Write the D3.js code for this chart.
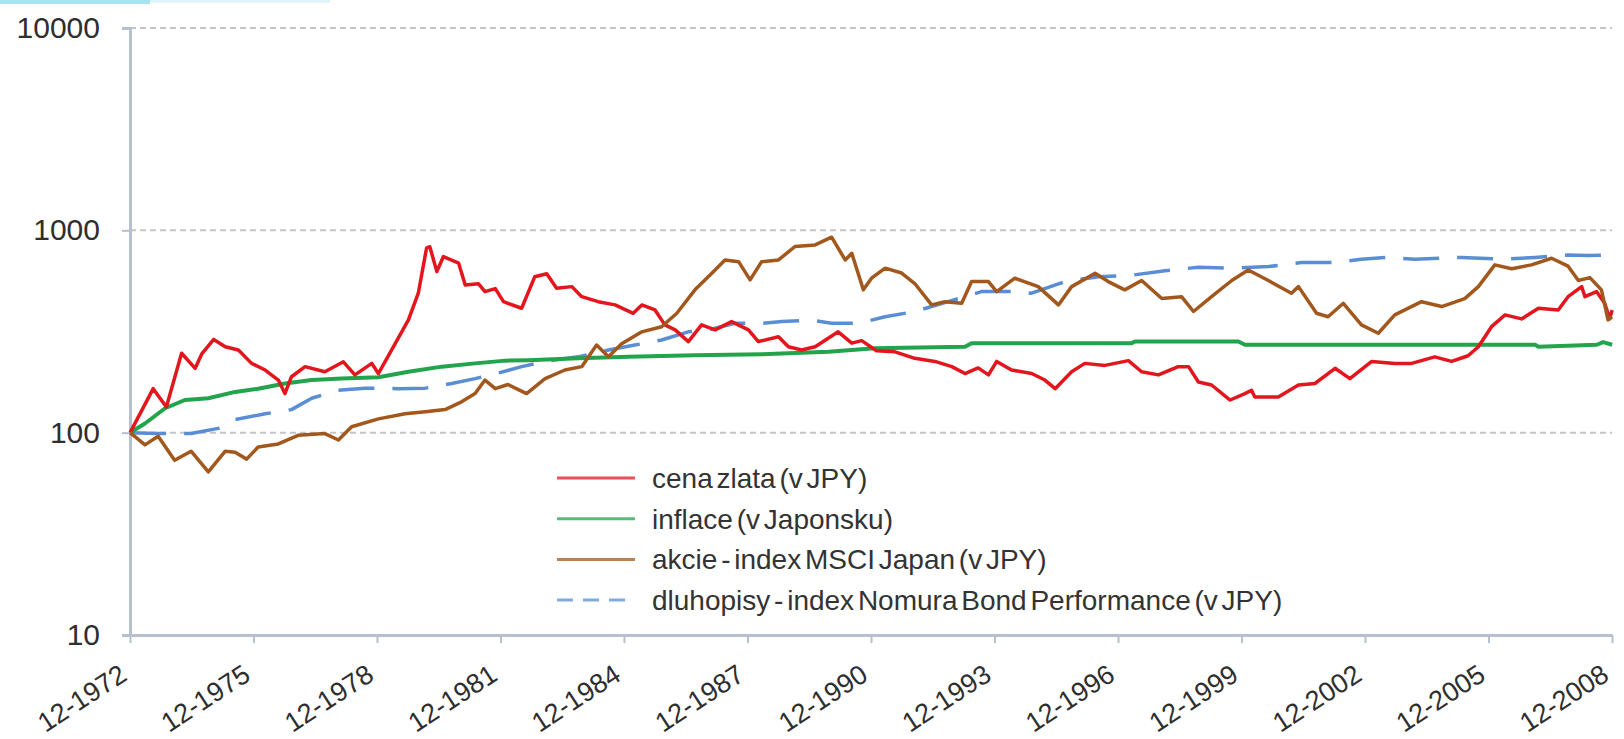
<!doctype html>
<html lang="cs">
<head>
<meta charset="utf-8">
<title>Zlato, inflace, akcie a dluhopisy v Japonsku</title>
<script src="https://d3js.org/d3.v7.min.js"></script>
<style>
  body { margin: 0; background: #fff; font-family: Arial, "Liberation Sans", Helvetica, sans-serif; }
  svg { display: block; }
</style>
</head>
<body>
<svg id="chart" width="1624" height="739"></svg>
<script>
// values (index, 12-1972 = 100), dates as decimal years
var goldYears = [1972.92, 1973.48, 1973.8, 1974.17, 1974.5, 1974.66, 1974.95, 1975.23, 1975.55, 1975.87,
  1976.2, 1976.52, 1976.68, 1976.84, 1977.17, 1977.65, 1978.1, 1978.38, 1978.79, 1978.95,
  1979.27, 1979.68, 1979.92, 1980.12, 1980.2, 1980.37, 1980.53, 1980.9, 1981.06, 1981.38,
  1981.54, 1981.79, 1981.99, 1982.43, 1982.75, 1983.04, 1983.28, 1983.65, 1983.89, 1984.29,
  1984.7, 1985.14, 1985.35, 1985.67, 1985.91, 1986.16, 1986.48, 1986.8, 1987.13, 1987.53,
  1987.94, 1988.18, 1988.67, 1988.91, 1989.23, 1989.56, 1990.12, 1990.45, 1990.69, 1991.05,
  1991.5, 1991.98, 1992.47, 1992.88, 1993.2, 1993.52, 1993.77, 1993.97, 1994.33, 1994.82,
  1995.14, 1995.39, 1995.79, 1996.11, 1996.6, 1997.17, 1997.49, 1997.9, 1998.38, 1998.63,
  1998.87, 1999.19, 1999.64, 2000.0, 2000.16, 2000.24, 2000.81, 2001.3, 2001.7, 2002.19,
  2002.55, 2003.08, 2003.64, 2004.05, 2004.61, 2005.02, 2005.42, 2005.67, 2005.99, 2006.32,
  2006.72, 2007.13, 2007.61, 2007.85, 2008.18, 2008.26, 2008.54, 2008.74, 2008.86, 2008.92];
var goldValues = [100, 165, 134, 247, 208, 245, 289, 266, 256, 220,
  204, 182, 156, 189, 212, 200, 224, 193, 220, 196,
  256, 361, 489, 816, 830, 625, 742, 688, 537, 545,
  498, 515, 444, 412, 590, 610, 517, 527, 470, 444,
  428, 389, 428, 404, 341, 322, 282, 341, 322, 354,
  322, 282, 298, 266, 256, 266, 315, 277, 285, 254,
  251, 233, 225, 212, 196, 209, 193, 225, 204, 196,
  182, 165, 200, 220, 215, 227, 200, 193, 212, 212,
  178, 172, 145, 156, 162, 150, 150, 172, 175, 208,
  185, 225, 220, 220, 237, 225, 240, 266, 334, 382,
  365, 412, 404, 470, 527, 470, 498, 436, 365, 404];

var cpiYears = [1972.92, 1973.28, 1973.77, 1974.25, 1974.82, 1975.47, 1976.03, 1976.68, 1977.33, 1978.06,
  1978.95, 1979.68, 1980.49, 1981.3, 1982.03, 1982.59, 1983.8, 1985.02, 1986.64, 1988.26,
  1989.88, 1991.01, 1993.2, 1993.36, 1997.25, 1997.33, 1999.84, 2000.0, 2007.05, 2007.13,
  2008.55, 2008.7, 2008.92];
var cpiValues = [100, 111, 132, 145, 148, 159, 165, 175, 182, 185,
  188, 200, 212, 220, 227, 228, 233, 237, 241, 244,
  251, 261, 266, 277, 277, 282, 282, 272, 272, 266,
  272, 280, 272];

var stockYears = [1972.92, 1973.28, 1973.6, 1974.0, 1974.4, 1974.82, 1975.23, 1975.47, 1975.75, 1976.03,
  1976.52, 1977.0, 1977.65, 1977.98, 1978.3, 1978.95, 1979.6, 1980.09, 1980.57, 1980.97,
  1981.3, 1981.54, 1981.79, 1982.1, 1982.55, 1983.0, 1983.48, 1983.89, 1984.25, 1984.54,
  1984.86, 1985.35, 1985.83, 1986.2, 1986.64, 1987.05, 1987.37, 1987.7, 1987.98, 1988.26,
  1988.67, 1989.07, 1989.56, 1989.96, 1990.29, 1990.45, 1990.73, 1990.93, 1991.26, 1991.66,
  1991.98, 1992.39, 1992.71, 1993.12, 1993.36, 1993.77, 1993.97, 1994.41, 1994.98, 1995.47,
  1995.79, 1996.36, 1996.68, 1997.08, 1997.49, 1997.98, 1998.46, 1998.75, 1999.19, 1999.68,
  2000.08, 2000.57, 2001.13, 2001.3, 2001.74, 2002.02, 2002.39, 2002.83, 2003.24, 2003.64,
  2004.29, 2004.78, 2005.34, 2005.67, 2006.07, 2006.48, 2006.96, 2007.45, 2007.85, 2008.1,
  2008.38, 2008.66, 2008.82, 2008.92];
var stockValues = [100, 87, 96, 73, 81, 64, 81, 80, 74, 85,
  88, 97, 99, 92, 107, 117, 124, 127, 130, 142,
  156, 182, 165, 173, 156, 185, 204, 212, 271, 237,
  275, 315, 334, 389, 508, 614, 714, 700, 569, 700,
  714, 832, 847, 925, 714, 770, 508, 580, 650, 615,
  546, 428, 444, 436, 558, 558, 498, 580, 527, 428,
  527, 614, 558, 508, 565, 460, 470, 397, 470, 565,
  637, 565, 489, 527, 389, 374, 436, 341, 310, 382,
  444, 420, 460, 527, 675, 646, 675, 728, 665, 565,
  584, 508, 361, 374];

var bondYears = [1972.92, 1973.6, 1974.4, 1975.06, 1975.47, 1976.2, 1976.84, 1977.33, 1977.98, 1978.62,
  1979.44, 1980.09, 1980.73, 1981.3, 1981.78, 1982.43, 1983.0, 1983.8, 1984.54, 1985.18,
  1985.83, 1986.48, 1986.96, 1987.61, 1988.26, 1988.75, 1989.47, 1989.96, 1990.61, 1991.26,
  1991.98, 1992.79, 1993.6, 1994.41, 1994.82, 1995.63, 1996.44, 1997.25, 1998.06, 1998.87,
  1999.76, 2000.57, 2001.38, 2002.19, 2002.83, 2003.48, 2004.13, 2005.26, 2006.23, 2007.05,
  2007.85, 2008.34, 2008.83, 2008.92];
var bondValues = [100, 99, 99, 105, 116, 124, 130, 148, 162, 166,
  165, 166, 175, 185, 195, 212, 225, 237, 256, 271,
  287, 315, 322, 347, 347, 354, 360, 347, 347, 374,
  397, 444, 498, 498, 489, 558, 590, 600, 631, 657,
  650, 662, 693, 693, 720, 735, 720, 735, 720, 735,
  756, 750, 756, 785];

var seriesNames = ["cena zlata (v JPY)", "inflace (v Japonsku)",
  "akcie - index MSCI Japan (v JPY)", "dluhopisy - index Nomura Bond Performance (v JPY)"];
var tickLabels = ["12-1972", "12-1975", "12-1978", "12-1981", "12-1984", "12-1987", "12-1990",
  "12-1993", "12-1996", "12-1999", "12-2002", "12-2005", "12-2008"];
var yTicks = [10, 100, 1000, 10000];

var svg = d3.select("#chart");

// thin cyan strip in the top-left corner of the picture
svg.append("rect").attr("x", 0).attr("y", 0).attr("width", 150).attr("height", 4).attr("fill", "#a6e2ef");
svg.append("rect").attr("x", 150).attr("y", 0).attr("width", 180).attr("height", 3).attr("fill", "#dff3f8");

function labelYear(s) { return +s.split("-")[1] + 11 / 12; }

var x = d3.scaleLinear()
  .domain([labelYear(tickLabels[0]), labelYear(tickLabels[tickLabels.length - 1])])
  .range([130, 1612]);
var y = d3.scaleLog().domain([10, 10000]).range([635, 28]);

// horizontal dotted gridlines
svg.append("g").selectAll("line")
  .data(yTicks.slice(1))
  .join("line")
  .attr("x1", x.range()[0]).attr("x2", x.range()[1])
  .attr("y1", d => y(d)).attr("y2", d => y(d))
  .attr("stroke", "#c4c4c4").attr("stroke-width", 2).attr("stroke-dasharray", "6,4");

// y axis
var yAxis = svg.append("g")
  .attr("transform", "translate(" + x.range()[0] + ",0)")
  .call(d3.axisLeft(y).tickValues(yTicks).tickFormat(d3.format("d")).tickSize(8).tickPadding(22));
yAxis.select(".domain").attr("stroke", "#b7c0cf").attr("stroke-width", 3);
yAxis.selectAll(".tick line").attr("stroke", "#b7c0cf").attr("stroke-width", 2);
yAxis.selectAll(".tick text")
  .attr("font-size", 30).attr("fill", "#2e2e2e")
  .attr("font-family", "Arial, 'Liberation Sans', sans-serif");

// x axis
var xAxis = svg.append("g")
  .attr("transform", "translate(0," + y.range()[0] + ")")
  .call(d3.axisBottom(x).tickValues(tickLabels.map(labelYear)).tickFormat((d, i) => tickLabels[i]).tickSize(8).tickSizeOuter(0));
xAxis.select(".domain").attr("stroke", "#b7c0cf").attr("stroke-width", 3);
xAxis.selectAll(".tick line").attr("stroke", "#b7c0cf").attr("stroke-width", 2);
xAxis.selectAll(".tick text")
  .attr("font-size", 27).attr("fill", "#2e2e2e")
  .attr("font-family", "Arial, 'Liberation Sans', sans-serif")
  .attr("text-anchor", "end")
  .attr("dy", null)
  .attr("y", 0)
  .attr("transform", "translate(-2,44) rotate(-33)");

// series
var colors = ["#e3161d", "#22a34c", "#a2581d", "#5a8ed4"];
var series = [
  { years: goldYears, values: goldValues },
  { years: cpiYears, values: cpiValues },
  { years: stockYears, values: stockValues },
  { years: bondYears, values: bondValues }
];
var line = d3.line().x(d => x(d[0])).y(d => y(d[1]));

// bonds at the back, stocks on top
var order = [3, 1, 0, 2];
order.forEach(function (k) {
  var s = series[k];
  svg.append("path")
    .datum(d3.zip(s.years, s.values))
    .attr("fill", "none")
    .attr("stroke", colors[k])
    .attr("stroke-width", k === 1 ? 4 : 3.5)
    .attr("stroke-linejoin", "round")
    .attr("stroke-dasharray", k === 3 ? "36,18" : null)
    .attr("d", line);
});

// legend
var legend = svg.append("g").attr("transform", "translate(557,478)");
var rows = legend.selectAll("g")
  .data(seriesNames)
  .join("g")
  .attr("transform", (d, i) => "translate(0," + (i * 40.7) + ")");
rows.append("line")
  .attr("x1", 0).attr("x2", 78).attr("y1", 0).attr("y2", 0)
  .attr("stroke", (d, i) => colors[i])
  .attr("stroke-opacity", 0.75)
  .attr("stroke-width", 3)
  .attr("stroke-dasharray", (d, i) => i === 3 ? "16,10" : null);
rows.append("text")
  .attr("x", 95).attr("y", 0).attr("dy", "0.35em")
  .attr("font-size", 28).attr("fill", "#333")
  .attr("word-spacing", -4)
  .attr("font-family", "Arial, 'Liberation Sans', sans-serif")
  .text(d => d);
</script>
</body>
</html>
